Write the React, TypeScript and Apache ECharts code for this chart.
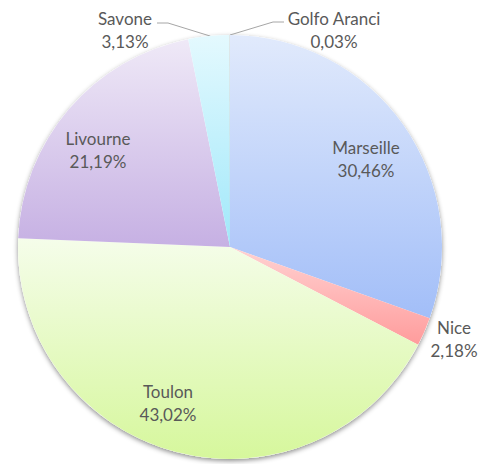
import React, { useEffect, useRef } from "react";
import * as echarts from "echarts";

const categories = ["Marseille", "Nice", "Toulon", "Livourne", "Savone", "Golfo Aranci"];
const shares = [30.46, 2.18, 43.02, 21.19, 3.13, 0.03];

const topColors = ["#e1eafc", "#ffd2d2", "#f5fdea", "#efe9f7", "#e4f9fe", "#c8c8c8"];
const bottomColors = ["#a2bef8", "#ff9c9c", "#d6f79c", "#c6b0e3", "#a0e8fa", "#a8a8a8"];

const labelPlaces: Array<"inside" | "outside"> = ["inside", "outside", "inside", "inside", "outside", "outside"];
const labelCenters: number[][] = [
  [366, 158.5],
  [454, 338.5],
  [168, 403],
  [98, 150],
  [125, 29.5],
  [334, 29.5],
];
const leaderLines: (number[][] | null)[] = [
  null,
  null,
  null,
  null,
  [[210, 36], [168, 23], [157, 23]],
  [[230, 35], [273, 22], [284, 22]],
];

export default function App() {
  const ref = useRef<HTMLDivElement>(null);
  useEffect(() => {
    if (!ref.current) return;
    const chart = echarts.init(ref.current, null, { renderer: "svg" });
    const data = categories.map((name, i) => ({
      name,
      value: shares[i],
      itemStyle: {
        color: new echarts.graphic.LinearGradient(0, 0, 0, 1, [
          { offset: 0, color: topColors[i] },
          { offset: 1, color: bottomColors[i] },
        ]),
      },
      label: { position: labelPlaces[i] },
      labelLine: { show: leaderLines[i] !== null },
    }));
    chart.setOption({
      animation: false,
      backgroundColor: "#ffffff",
      series: [
        {
          type: "pie",
          silent: true,
          z: 1,
          center: [230, 247],
          radius: 212,
          startAngle: 90,
          label: { show: false },
          labelLine: { show: false },
          itemStyle: {
            color: "#ffffff",
            shadowBlur: 5,
            shadowOffsetY: 2,
            shadowColor: "rgba(0,0,0,0.45)",
          },
          data: [{ value: 1, name: "" }],
        },
        {
          type: "pie",
          z: 2,
          center: [230, 247],
          radius: 212,
          startAngle: 90,
          clockwise: true,
          avoidLabelOverlap: false,
          minAngle: 0,
          label: {
            show: true,
            color: "#595959",
            fontFamily: "Lato",
            fontSize: 17,
            lineHeight: 23,
            align: "center",
            formatter: (p: any) =>
              `${p.name}\n${Number(p.value).toFixed(2).replace(".", ",")}%`,
          },
          labelLine: {
            show: true,
            lineStyle: { color: "#a6a6a6", width: 1 },
          },
          labelLayout: (params: any) => {
            const i = params.dataIndex;
            const c = labelCenters[i];
            const out: any = {
              x: c[0],
              y: c[1],
              align: "center",
              verticalAlign: "middle",
            };
            if (leaderLines[i]) out.labelLinePoints = leaderLines[i];
            return out;
          },
          data,
        },
      ],
    });
    return () => chart.dispose();
  }, []);
  return (
    <div
      ref={ref}
      style={{ position: "fixed", left: 0, top: 0, width: 491, height: 464 }}
    />
  );
}
